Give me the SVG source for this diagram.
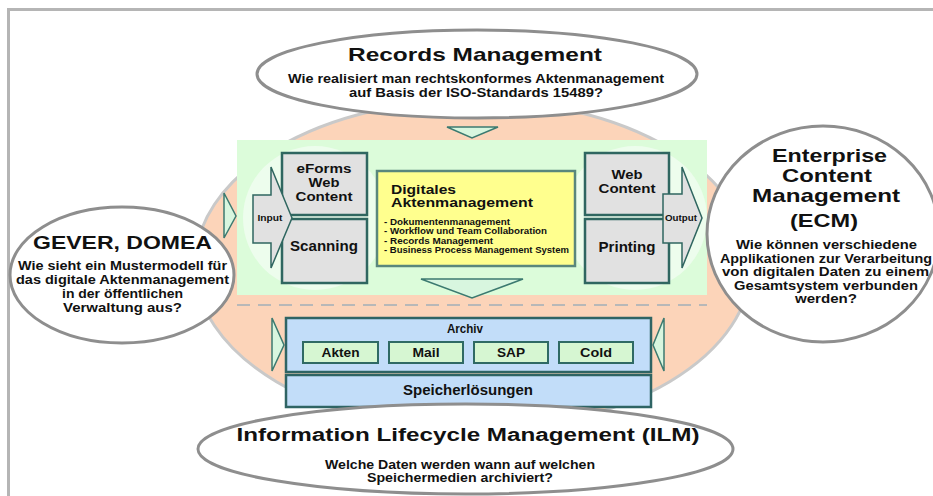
<svg xmlns="http://www.w3.org/2000/svg" width="933" height="496" viewBox="0 0 933 496">
<style>
.t{font-family:"Liberation Sans",Arial,sans-serif;font-weight:bold;fill:#111}
.bubble{fill:#fff;stroke:#8e8e8e;stroke-width:3}
.gbox{fill:#e1e1e1;stroke:#2f6660;stroke-width:2.5}
.bbox{fill:#c2ddf9;stroke:#2f6464;stroke-width:2.5}
.sbox{fill:#d6f6d2;stroke:#2f6a64;stroke-width:2}
.tri{fill:#d8f6df;stroke:#3c7a70;stroke-width:1.5}
.arr{fill:#e1e1e1;stroke:#2f6660;stroke-width:1.5}
</style>
<rect x="0" y="0" width="933" height="496" fill="#fff"/>
<path d="M8.5 496 V9.5 H933" fill="none" stroke="#b5b5b5" stroke-width="3"/>

<g id="peach">
<ellipse cx="473" cy="265" rx="278" ry="165" fill="#fcd4b9" stroke="#c9c9c9" stroke-width="3"/>
</g>

<g id="records-management">
<ellipse class="bubble" cx="477" cy="74" rx="220" ry="44"/>
<text class="t" x="475" y="61" font-size="19" text-anchor="middle" textLength="254" lengthAdjust="spacingAndGlyphs">Records Management</text>
<text class="t" x="476" y="83" font-size="12" text-anchor="middle" textLength="376" lengthAdjust="spacingAndGlyphs">Wie realisiert man rechtskonformes Aktenmanagement</text>
<text class="t" x="476" y="97" font-size="12" text-anchor="middle" textLength="254" lengthAdjust="spacingAndGlyphs">auf Basis der ISO-Standards 15489?</text>
</g>

<g id="process-area">
<rect x="237" y="140" width="470" height="155" fill="#dcfcda"/>
<circle cx="315" cy="218" r="72" fill="#edfded"/>
<circle cx="635" cy="218" r="72" fill="#edfded"/>
<line x1="237" y1="305" x2="707" y2="305" stroke="#b8b8b8" stroke-width="2" stroke-dasharray="13 8"/>
</g>

<g id="eforms">
<rect class="gbox" x="282" y="153" width="85" height="62"/>
<text class="t" x="324" y="173" font-size="13" text-anchor="middle" textLength="55" lengthAdjust="spacingAndGlyphs">eForms</text>
<text class="t" x="324" y="187" font-size="13" text-anchor="middle" textLength="31" lengthAdjust="spacingAndGlyphs">Web</text>
<text class="t" x="324" y="201" font-size="13" text-anchor="middle" textLength="57" lengthAdjust="spacingAndGlyphs">Content</text>
</g>
<g id="scanning">
<rect class="gbox" x="282" y="219" width="85" height="64"/>
<text class="t" x="324" y="251" font-size="15" text-anchor="middle" textLength="68" lengthAdjust="spacingAndGlyphs">Scanning</text>
</g>
<g id="web-content">
<rect class="gbox" x="585" y="153" width="84" height="62"/>
<text class="t" x="627" y="179" font-size="13" text-anchor="middle" textLength="31" lengthAdjust="spacingAndGlyphs">Web</text>
<text class="t" x="627" y="193" font-size="13" text-anchor="middle" textLength="57" lengthAdjust="spacingAndGlyphs">Content</text>
</g>
<g id="printing">
<rect class="gbox" x="585" y="219" width="84" height="64"/>
<text class="t" x="627" y="252" font-size="15" text-anchor="middle" textLength="57" lengthAdjust="spacingAndGlyphs">Printing</text>
</g>

<g id="digitales-aktenmanagement">
<rect x="377" y="171" width="198" height="95" fill="#ffff8e" stroke="#5a877c" stroke-width="2.5"/>
<text class="t" x="391" y="194" font-size="12.5" textLength="65" lengthAdjust="spacingAndGlyphs">Digitales</text>
<text class="t" x="391" y="207" font-size="12.5" textLength="142" lengthAdjust="spacingAndGlyphs">Aktenmanagement</text>
<text class="t" x="384" y="225" font-size="8.5" textLength="126" lengthAdjust="spacingAndGlyphs">- Dokumentenmanagement</text>
<text class="t" x="384" y="234" font-size="8.5" textLength="163" lengthAdjust="spacingAndGlyphs">- Workflow und Team Collaboration</text>
<text class="t" x="384" y="244" font-size="8.5" textLength="109" lengthAdjust="spacingAndGlyphs">- Records Management</text>
<text class="t" x="384" y="253" font-size="8.5" textLength="185" lengthAdjust="spacingAndGlyphs">- Business Process Management System</text>
</g>

<g id="archiv">
<rect class="bbox" x="286" y="318" width="365" height="54"/>
<text class="t" x="465" y="333" font-size="13" text-anchor="middle" textLength="36" lengthAdjust="spacingAndGlyphs">Archiv</text>
</g>
<g id="akten">
<rect class="sbox" x="303" y="342" width="75" height="21"/>
<text class="t" x="340.5" y="357" font-size="13" text-anchor="middle" textLength="38" lengthAdjust="spacingAndGlyphs">Akten</text>
</g>
<g id="mail">
<rect class="sbox" x="389" y="342" width="74" height="21"/>
<text class="t" x="426" y="357" font-size="13" text-anchor="middle" textLength="27" lengthAdjust="spacingAndGlyphs">Mail</text>
</g>
<g id="sap">
<rect class="sbox" x="474" y="342" width="74" height="21"/>
<text class="t" x="511" y="357" font-size="13" text-anchor="middle" textLength="28" lengthAdjust="spacingAndGlyphs">SAP</text>
</g>
<g id="cold">
<rect class="sbox" x="559" y="342" width="74" height="21"/>
<text class="t" x="596" y="357" font-size="13" text-anchor="middle" textLength="32" lengthAdjust="spacingAndGlyphs">Cold</text>
</g>
<g id="speicherloesungen">
<rect class="bbox" x="286" y="375" width="365" height="32"/>
<text class="t" x="468" y="395" font-size="15" text-anchor="middle" textLength="130" lengthAdjust="spacingAndGlyphs">Speicherlösungen</text>
</g>

<g id="connectors">
<polygon class="arr" points="253,195 271,195 271,167 292,218 271,268 271,243 253,243"/>
<text class="t" x="270" y="221" font-size="9.5" font-weight="normal" text-anchor="middle" textLength="25" lengthAdjust="spacingAndGlyphs">Input</text>
<polygon class="arr" points="663,194 682,194 682,167 702,218 682,268 682,243 663,243"/>
<text class="t" x="681" y="221" font-size="9.5" text-anchor="middle" textLength="32" lengthAdjust="spacingAndGlyphs">Output</text>
<polygon class="tri" points="447,127 498,127 472,138"/>
<polygon class="tri" points="421,279 523,279 472,298"/>
<polygon class="tri" points="224,193 236,216 224,238"/>
<polygon class="tri" points="272,318 284,345 272,371"/>
<polygon class="tri" points="664,318 653,345 664,371"/>
</g>

<g id="gever-domea">
<ellipse class="bubble" cx="122" cy="275" rx="112" ry="68"/>
<text class="t" x="122.5" y="249" font-size="18" text-anchor="middle" textLength="179" lengthAdjust="spacingAndGlyphs">GEVER, DOMEA</text>
<text class="t" x="122.5" y="270" font-size="13" text-anchor="middle" textLength="209" lengthAdjust="spacingAndGlyphs">Wie sieht ein Mustermodell für</text>
<text class="t" x="122.5" y="284" font-size="13" text-anchor="middle" textLength="213" lengthAdjust="spacingAndGlyphs">das digitale Aktenmanagement</text>
<text class="t" x="122.5" y="297.5" font-size="13" text-anchor="middle" textLength="121" lengthAdjust="spacingAndGlyphs">in der öffentlichen</text>
<text class="t" x="122.5" y="311.5" font-size="13" text-anchor="middle" textLength="119" lengthAdjust="spacingAndGlyphs">Verwaltung aus?</text>
</g>

<g id="ecm">
<ellipse class="bubble" cx="823" cy="234" rx="116" ry="108"/>
<text class="t" x="829.5" y="162" font-size="19" text-anchor="middle" textLength="115" lengthAdjust="spacingAndGlyphs">Enterprise</text>
<text class="t" x="827" y="182" font-size="19" text-anchor="middle" textLength="90" lengthAdjust="spacingAndGlyphs">Content</text>
<text class="t" x="826" y="202" font-size="19" text-anchor="middle" textLength="148" lengthAdjust="spacingAndGlyphs">Management</text>
<text class="t" x="824" y="227" font-size="19" text-anchor="middle" textLength="68" lengthAdjust="spacingAndGlyphs">(ECM)</text>
<text class="t" x="826.5" y="248.5" font-size="13" text-anchor="middle" textLength="181" lengthAdjust="spacingAndGlyphs">Wie können verschiedene</text>
<text class="t" x="826" y="262.5" font-size="13" text-anchor="middle" textLength="212" lengthAdjust="spacingAndGlyphs">Applikationen zur Verarbeitung</text>
<text class="t" x="825.5" y="276" font-size="13" text-anchor="middle" textLength="207" lengthAdjust="spacingAndGlyphs">von digitalen Daten zu einem</text>
<text class="t" x="826" y="289.5" font-size="13" text-anchor="middle" textLength="184" lengthAdjust="spacingAndGlyphs">Gesamtsystem verbunden</text>
<text class="t" x="826" y="303" font-size="13" text-anchor="middle" textLength="62" lengthAdjust="spacingAndGlyphs">werden?</text>
</g>

<g id="ilm">
<ellipse class="bubble" cx="465.5" cy="449" rx="267.5" ry="45"/>
<text class="t" x="468" y="441" font-size="18" text-anchor="middle" textLength="463" lengthAdjust="spacingAndGlyphs">Information Lifecycle Management (ILM)</text>
<text class="t" x="460" y="469" font-size="12.5" text-anchor="middle" textLength="270" lengthAdjust="spacingAndGlyphs">Welche Daten werden wann auf welchen</text>
<text class="t" x="460" y="482" font-size="12.5" text-anchor="middle" textLength="186" lengthAdjust="spacingAndGlyphs">Speichermedien archiviert?</text>
</g>
</svg>
